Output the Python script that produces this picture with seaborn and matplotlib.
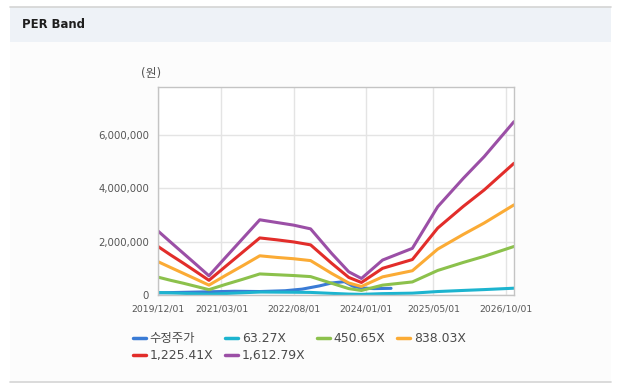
import pandas as pd
import matplotlib
matplotlib.use('Agg')
import matplotlib.pyplot as plt
import matplotlib.dates as mdates
from matplotlib.patches import Rectangle
from matplotlib.lines import Line2D
from matplotlib.ticker import FuncFormatter
import seaborn as sns

# Data (values in won)
band_dates = ['2019-12-01', '2020-03-01', '2020-06-01', '2020-09-01', '2020-12-01',
              '2021-04-01', '2021-08-01', '2021-12-01', '2022-04-01', '2022-08-01',
              '2022-12-01', '2023-05-01', '2023-09-01', '2023-12-01', '2024-05-01',
              '2024-12-01', '2025-06-01', '2025-12-01', '2026-05-01', '2026-12-01']

per_63 = [94000, 78000, 61000, 45000, 28000, 56000, 83000, 111000, 107000, 103000,
          97000, 61000, 34000, 24000, 51000, 69000, 130000, 171000, 203000, 255000]
per_450 = [670000, 550000, 440000, 320000, 200000, 400000, 590000, 790000, 760000, 730000,
           690000, 440000, 240000, 170000, 370000, 490000, 920000, 1220000, 1450000, 1820000]
per_838 = [1250000, 1030000, 810000, 590000, 370000, 740000, 1100000, 1470000, 1410000, 1360000,
           1290000, 810000, 450000, 320000, 680000, 910000, 1720000, 2270000, 2700000, 3380000]
per_1225 = [1820000, 1500000, 1190000, 870000, 550000, 1080000, 1610000, 2140000, 2070000, 1990000,
            1880000, 1190000, 660000, 470000, 1000000, 1330000, 2510000, 3320000, 3940000, 4940000]
per_1612 = [2400000, 1980000, 1560000, 1140000, 720000, 1420000, 2120000, 2820000, 2720000, 2620000,
            2480000, 1560000, 870000, 620000, 1310000, 1750000, 3310000, 4370000, 5190000, 6500000]

price_dates = ['2019-12-01', '2020-06-01', '2020-12-01', '2021-06-01', '2021-12-01',
               '2022-06-01', '2022-10-01', '2023-02-01', '2023-05-01', '2023-08-01',
               '2023-10-01', '2023-12-01', '2024-03-01', '2024-07-01']
price = [80000, 100000, 120000, 140000, 130000, 160000, 220000, 340000, 450000, 500000,
         330000, 260000, 240000, 250000]

series_names = ['수정주가', '63.27X', '450.65X', '838.03X', '1,225.41X', '1,612.79X']
series_colors = ['#3a7bd5', '#1db4cf', '#8cc14c', '#fbab35', '#e22d2a', '#9b4fa6']
x_ticks = ['2019/12/01', '2021/03/01', '2022/08/01', '2024/01/01', '2025/05/01', '2026/10/01']

# Long-form table for seaborn
frames = [pd.DataFrame({'date': pd.to_datetime(price_dates), 'value': price, 'series': series_names[0]})]
for name, vals in zip(series_names[1:], [per_63, per_450, per_838, per_1225, per_1612]):
    frames.append(pd.DataFrame({'date': pd.to_datetime(band_dates), 'value': vals, 'series': name}))
df = pd.concat(frames, ignore_index=True)

sns.set_style('white')
plt.rcParams['font.family'] = ['DejaVu Sans', 'Noto Sans CJK KR']

fig = plt.figure(figsize=(6.2, 3.87), dpi=100)
fig.patch.set_facecolor('white')

W, H = 620.0, 387.0
# panel background, header band and border lines (behind the axes)
fig.patches.append(Rectangle((10 / W, 1 - 381 / H), 601 / W, 339 / H, transform=fig.transFigure,
                             facecolor='#fcfcfc', edgecolor='none', zorder=-10))
fig.patches.append(Rectangle((10 / W, 1 - 42 / H), 601 / W, 35 / H, transform=fig.transFigure,
                             facecolor='#eef2f7', edgecolor='none', zorder=-10))
fig.lines.append(Line2D([10 / W, 611 / W], [1 - 6.5 / H, 1 - 6.5 / H], transform=fig.transFigure,
                        color='#d4d4d4', lw=1.2, zorder=-9))
fig.lines.append(Line2D([10 / W, 611 / W], [1 - 381.5 / H, 1 - 381.5 / H], transform=fig.transFigure,
                        color='#d4d4d4', lw=1.2, zorder=-9))
fig.text(22 / W, 1 - 25 / H, 'PER Band', family='DejaVu Sans', fontweight='bold', fontsize=8.4,
         color='#1e1e1e', va='center', ha='left')

ax = fig.add_axes([158 / W, 1 - 295 / H, 356 / W, 208 / H])
ax.set_facecolor('white')

sns.lineplot(data=df, x='date', y='value', hue='series', hue_order=series_names,
             palette=series_colors, linewidth=2.2, ax=ax)

ax.set_xlim(pd.Timestamp('2019-12-01'), pd.Timestamp('2026-12-01'))
ax.set_ylim(0, 7800000)
ax.set_xticks(pd.to_datetime(x_ticks))
ax.xaxis.set_major_formatter(mdates.DateFormatter('%Y/%m/%d'))
ax.set_yticks([0, 2000000, 4000000, 6000000])
ax.yaxis.set_major_formatter(FuncFormatter(lambda v, p: '{:,}'.format(int(v))))
ax.set_xlabel('')
ax.set_ylabel('')
ax.grid(True, color='#e4e4e4', linewidth=1)
ax.set_axisbelow(True)
for s in ax.spines.values():
    s.set_color('#c4c4c4')
    s.set_linewidth(1)
ax.tick_params(axis='y', length=5, width=1, color='#c4c4c4', labelsize=7.3, labelcolor='#555555', pad=1.5)
ax.tick_params(axis='x', length=4, width=1, color='#c4c4c4', labelsize=6.7, labelcolor='#555555', pad=3)

fig.text(151 / W, 1 - 73 / H, '(원)', fontsize=8.5, color='#555555', ha='center', va='center')

# legend is filled column by column, so reorder to read row by row
handles, labels = ax.get_legend_handles_labels()
for h in handles:
    h.set_linewidth(2.5)
order = [0, 4, 1, 5, 2, 3]
ax.legend([handles[i] for i in order], [labels[i] for i in order], ncol=4, loc='upper left',
          bbox_to_anchor=(133 / W, 1 - 332 / H), bbox_transform=fig.transFigure, frameon=False,
          fontsize=8.9, borderpad=0, borderaxespad=0, handlelength=1.05, handletextpad=0.3,
          columnspacing=0.95, labelspacing=0.35, labelcolor='#4a4a4a')

plt.savefig('out.png', dpi=100, facecolor='white')
plt.close()
